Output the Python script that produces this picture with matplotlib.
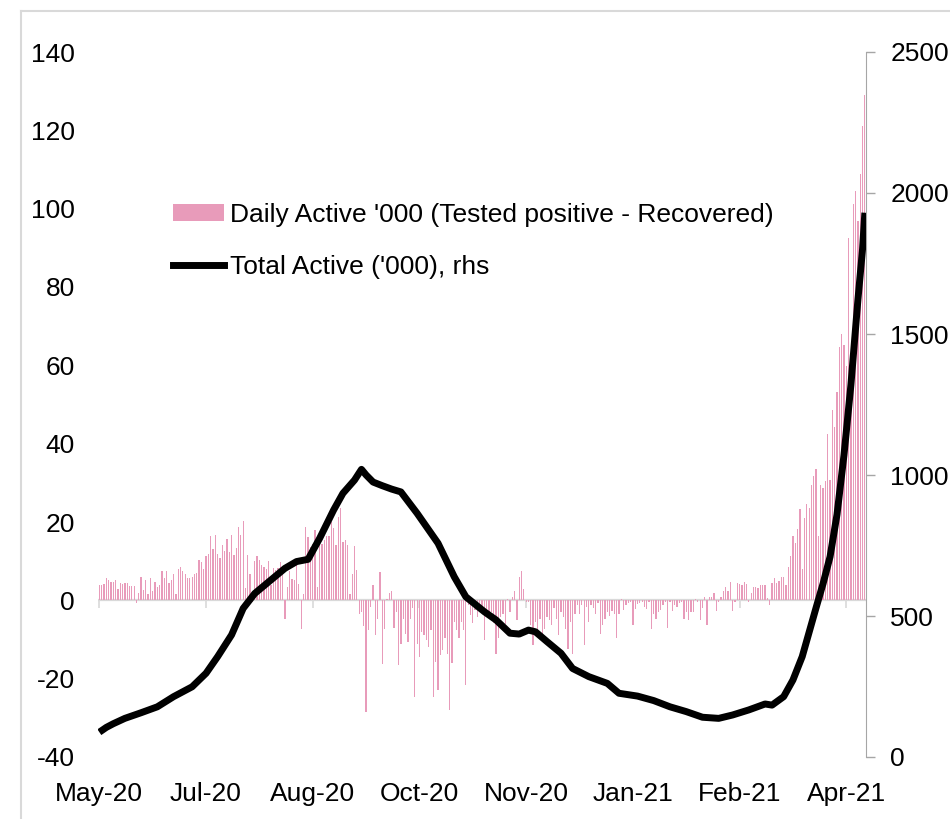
import pandas as pd
import matplotlib
matplotlib.use("Agg")
import matplotlib.pyplot as plt
from matplotlib.lines import Line2D
from matplotlib.patches import Patch

# === CONFIGURATION ===
plt.rcParams["font.family"] = ["Liberation Sans", "DejaVu Sans"]
plt.rcParams["axes.unicode_minus"] = False
FONT_SIZE = 19
PINK = "#E89BBA"
GREY = "#D9D9D9"
SPINE_GREY = "#A6A6A6"

start_date = "2020-05-24"
tick_every = 46  # days between x labels

# === DATA: daily change in active cases ('000) ===
daily_may_jul = [
    3.8, 3.8, 4.2, 5.7, 5.2, 4.6, 4.6, 5.2, 3.0, 4.4, 4.2,
    4.5, 4.5, 3.7, 3.7, 3.7, -0.8, 1.9, 6.0, 2.6, 5.2,
    1.5, 5.6, 2.3, 4.6, 3.4, 3.8, 7.5, 5.6, 7.5, 4.5,
    5.2, 6.8, 1.6, 7.9, 8.6, 7.5, 6.8, 5.6, 5.6, 6.0,
    6.8, 7.1, 10.4, 9.7, 8.1, 11.2, 11.9, 16.4, 13.1, 16.8,
    11.9, 10.8, 14.2, 12.7, 15.7, 12.3, 16.7, 11.6, 13.4, 18.6,
    16.8, 20.2, 3.1, 11.5, 6.8, -0.4, 10.1, 11.3, 10.2, 9.1,
]
daily_aug_oct = [
    8.5, 8.0, 10.0, 3.8, 8.3, 7.8, 8.3, 9.7, 8.0, -4.7, 3.4,
    7.6, 5.5, 5.3, 8.9, 4.2, -7.3, 1.5, 18.6, 16.1, 13.6,
    14.4, 18.0, 3.4, 17.1, 14.4, 15.5, 16.4, 16.4, 19.9, 18.4,
    14.2, 21.2, 23.5, 14.8, 15.3, 14.2, 1.7, 6.8, 13.8, 7.7,
    -3.6, -3.0, -6.5, -28.6, -7.5, -1.7, 3.8, -8.9, -4.7, 7.2,
    -16.3, -7.2, 0.3, 1.9, 2.3, -7.0, -3.0, -16.6, -11.2, -4.7,
    -8.7, -10.6, -4.7, -2.0, -24.7, -11.1, -14.5, -8.1,
]
daily_oct_dec = [
    -8.9, -10.2, -11.9, -7.6, -24.6, -15.7, -22.9, -14.0, -12.7, -9.7,
    -13.6, -28.1, -16.1, -5.5, -7.6, -9.7, -5.5, -7.6, -21.6, -1.3,
    -3.8, -5.9, -2.5, -4.2, -2.5, -2.5, -10.2, -2.5, -3.8, -3.0,
    -5.9, -13.6, -9.7, -4.2, -3.4, -6.0, 0.4, -3.0, 0.8, 2.4, -5.1,
    5.9, 7.5, 3.0, -0.4, -0.4, -6.4, -11.4, -5.5, -7.6, -4.7,
    -9.3, -7.2, -4.2, -5.1, -6.4, -2.0, -4.7, -8.9, -3.0, -4.2, -7.2,
    -12.3, -5.5, -13.6, -3.4, -1.3, -3.4, -1.3, -11.4, -1.7, -5.5,
]
daily_dec_mar = [
    -1.3, -2.0, -3.4, -0.8, -8.7, -6.2, -4.7, -3.0, -4.0, -2.8,
    -3.4, -9.7, -3.6, 0.4, -2.5, -1.3, -0.7, -0.4, -6.2, -2.1, -1.0,
    -0.8, -0.4, -1.7, -2.1, -0.4, -7.4, -3.6, -4.8, -3.0, -2.5,
    -1.3, -0.4, -7.0, -0.4, -2.8, -1.3, -1.7, -0.8, -0.4, -4.7,
    -3.1, -5.1, -3.0, -3.0, 0.4, -0.4, -5.1, -1.9, 0.8, -6.2,
    0.8, 0.8, 1.9, -2.8, -0.4, 0.8, 2.4, 3.4, 2.5, 4.7,
    -2.8, -0.4, 4.5, 4.2, 4.0, 4.8, 4.2, -0.4, 1.9, 3.4,
    3.4,
]
daily_mar_apr = [
    3.1, 4.0, 4.0, 4.0, 0.5, -1.3, 4.5, 5.8, 4.5, 5.0,
    6.0, 6.0, 4.0, 8.5, 11.2, 16.5, 14.7, 18.3, 23.2, 8.0,
    21.0, 24.6, 23.7, 29.5, 31.7, 33.5, 16.5, 29.5, 28.6, 30.4,
    42.4, 30.8, 48.7, 44.2, 53.1, 64.7, 67.9, 65.2, 59.8, 92.4,
    61.6, 101.3, 104.5, 96.9, 108.9, 121.0, 129.0,
]
daily_active = daily_may_jul + daily_aug_oct + daily_oct_dec + daily_dec_mar + daily_mar_apr

# === DATA: total active cases ('000), rhs ===
total_day = [
    0, 3, 6, 11, 18, 25, 32, 40, 46, 51, 57, 62, 67, 74, 80, 85, 90, 95,
    101, 105, 110, 113, 115, 118, 122, 126, 130, 137, 146, 153, 158, 166,
    171, 177, 181, 185, 188, 193, 199, 204, 211, 219, 224, 232, 239, 246,
    253, 260, 267, 273, 280, 287, 290, 295, 299, 303, 309, 312, 315, 318,
    321, 324, 327, 329, 330,
]
total_active = [
    88, 105, 118, 137, 157, 178, 214, 249, 297, 356, 433, 527, 580, 628, 669, 693, 701, 776,
    876, 935, 982, 1020, 1000, 975, 962, 950, 940, 864, 758, 639, 568, 515,
    486, 439, 436, 450, 444, 409, 368, 314, 285, 261, 226, 216, 200, 178,
    161, 141, 137, 149, 167, 188, 184, 214, 273, 356, 530, 615, 710, 860,
    1070, 1320, 1620, 1800, 1930,
]

dates = pd.date_range(start_date, periods=len(daily_active), freq="D")
total_dates = pd.Timestamp(start_date) + pd.to_timedelta(total_day, unit="D")
tick_dates = dates[::tick_every]
tick_labels = [d.strftime("%b-%y") for d in tick_dates]

# === PLOT ===
fig = plt.figure(figsize=(9.5, 8.19), dpi=100)
ax = fig.add_axes([98 / 950, 1 - 757 / 819, (866 - 98) / 950, (757 - 52) / 819])

ax.bar(dates, daily_active, width=0.55, color=PINK, linewidth=0, zorder=2)
ax.axhline(0, color=GREY, lw=1.6, zorder=1)
ax.set_ylim(-40, 140)
ax.set_yticks(range(-40, 141, 20))
ax.set_xlim(dates[0] - pd.Timedelta(hours=14), dates[-1] + pd.Timedelta(hours=12))
ax.set_xticks(tick_dates)
ax.set_xticklabels(tick_labels)
ax.tick_params(axis="x", length=0, pad=18, labelsize=FONT_SIZE)
ax.tick_params(axis="y", length=0, pad=16.5, labelsize=FONT_SIZE)
for side in ax.spines:
    ax.spines[side].set_visible(False)

# tick marks sitting on the zero line
zero_axis = ax.secondary_xaxis(40 / 180)
zero_axis.set_xticks(tick_dates)
zero_axis.tick_params(length=6, width=1.2, color=GREY, labelbottom=False, labeltop=False)
for side in zero_axis.spines:
    zero_axis.spines[side].set_visible(False)

ax2 = ax.twinx()
ax2.plot(total_dates, total_active, color="black", lw=5, solid_capstyle="butt", zorder=3)
ax2.set_ylim(0, 2500)
ax2.set_yticks(range(0, 2501, 500))
ax2.tick_params(axis="y", length=6.5, width=1, color=SPINE_GREY, pad=11, labelsize=FONT_SIZE)
for side in ["left", "top", "bottom"]:
    ax2.spines[side].set_visible(False)
ax2.spines["right"].set_color(SPINE_GREY)

handles = [
    Patch(facecolor=PINK, edgecolor="none"),
    Line2D([], [], color="black", lw=5),
]
labels = ["Daily Active '000 (Tested positive - Recovered)", "Total Active ('000), rhs"]
fig.legend(handles, labels, loc="upper left", bbox_to_anchor=(173 / 950, 1 - 203 / 819),
           frameon=False, fontsize=FONT_SIZE, handlelength=1.95, handleheight=0.6,
           handletextpad=0.2, labelspacing=1.05, borderpad=0, borderaxespad=0)

# light frame at left and top of the picture
fig.add_artist(Line2D([21 / 950, 21 / 950], [0, 1 - 11 / 819], transform=fig.transFigure,
                      color=GREY, lw=1.5))
fig.add_artist(Line2D([21 / 950, 1], [1 - 11 / 819, 1 - 11 / 819], transform=fig.transFigure,
                      color=GREY, lw=1.5))

fig.savefig("out.png", dpi=100, facecolor="white")
